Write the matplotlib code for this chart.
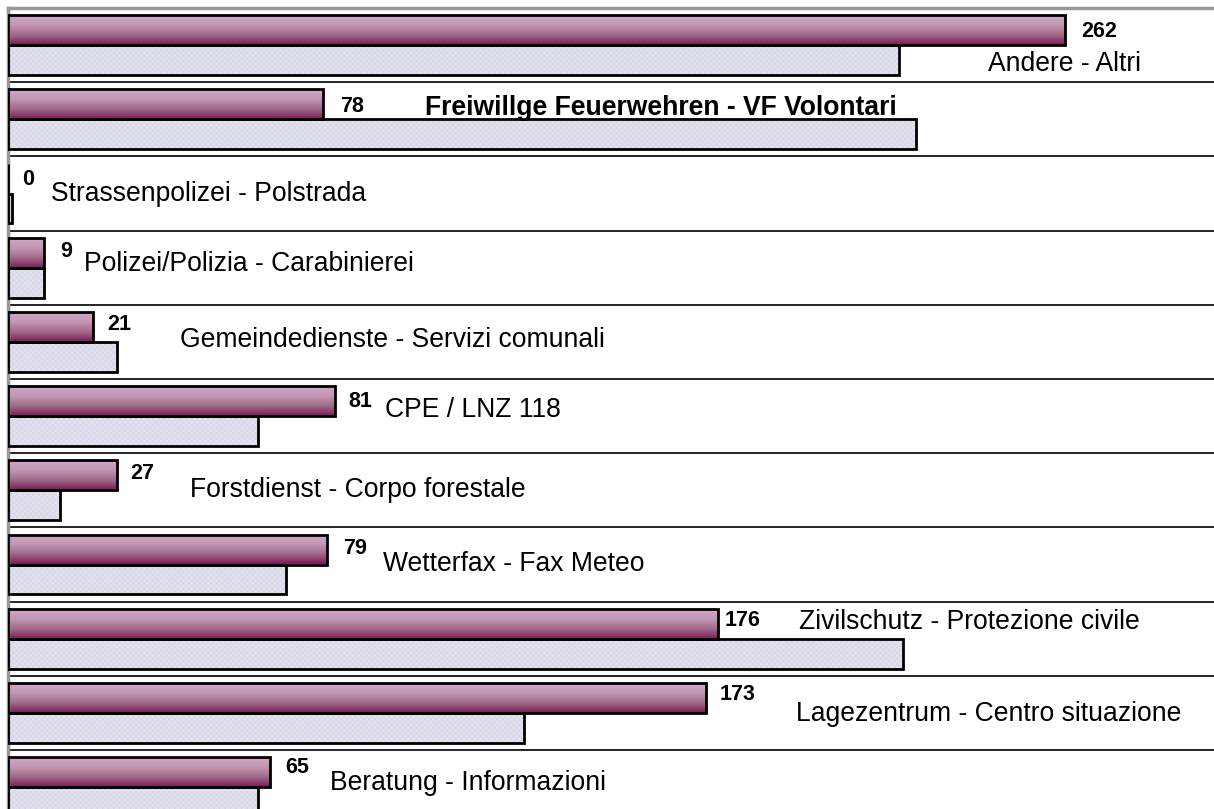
import numpy as np
import matplotlib
matplotlib.use("Agg")
import matplotlib.pyplot as plt
from matplotlib.colors import LinearSegmentedColormap

plt.rcParams['font.family'] = ['Liberation Sans', 'DejaVu Sans']
plt.rcParams['hatch.linewidth'] = 0.4

# categories top to bottom
labels = ["Andere - Altri",
          "Freiwillge Feuerwehren - VF Volontari",
          "Strassenpolizei - Polstrada",
          "Polizei/Polizia - Carabinierei",
          "Gemeindedienste - Servizi comunali",
          "CPE / LNZ 118",
          "Forstdienst - Corpo forestale",
          "Wetterfax - Fax Meteo",
          "Zivilschutz - Protezione civile",
          "Lagezentrum - Centro situazione",
          "Beratung - Informazioni"]
current = [262, 78, 0, 9, 21, 81, 27, 79, 176, 173, 65]
previous = [221, 225, 1, 9, 27, 62, 13, 69, 222, 128, 62]

# text placement (data units): value label and category label
num_x = [266.2, 82.3, 3.6, 12.9, 24.6, 84.3, 30.2, 83.0, 177.7, 176.5, 68.7]
num_dy = [-0.19, -0.17, -0.19, -0.22, -0.24, -0.2, -0.23, -0.22, -0.25, -0.25, -0.27]
lab_x = [243.0, 103.4, 10.6, 18.8, 42.6, 93.5, 45.0, 93.0, 196.0, 195.3, 79.8]
lab_dy = [0.25, -0.15, 0.01, -0.05, -0.03, -0.08, -0.01, -0.01, -0.23, 0.01, -0.06]
lab_bold = [False, True, False, False, False, False, False, False, False, False, False]

fig = plt.figure(figsize=(12.14, 8.09), dpi=100)
ax = fig.add_axes([8 / 1214, 1 - 824.2 / 809, 1206 / 1214, 816.2 / 809])

y = np.arange(len(labels))
h = 0.404

cmap = LinearSegmentedColormap.from_list("mauve", ["#d3a9c6", "#c296b3", "#a06986", "#7a1d56"])
grad = cmap(np.linspace(0, 1, 64))[:, None, :]

# top bars with vertical gradient
bars1 = ax.barh(y - h / 2, current, height=h, color="none", edgecolor="black", linewidth=2, zorder=3)
for b, v in zip(bars1, current):
    if v > 0:
        yc = b.get_y()
        im = ax.imshow(grad, extent=(0, v, yc + h, yc), aspect="auto", interpolation="bilinear", zorder=2)
        im.set_clip_path(b)

# bottom bars, light textured
ax.barh(y + h / 2, previous, height=h, color="#e2e2ef", edgecolor="#d2d2e2", hatch="xxxxxx", linewidth=0, zorder=2)
ax.barh(y + h / 2, previous, height=h, color="none", edgecolor="black", linewidth=2, zorder=3)

# row separators
for i in range(len(labels) - 1):
    ax.axhline(i + 0.5, color="black", linewidth=1.2, zorder=1)

for i in range(len(labels)):
    ax.text(num_x[i], i + num_dy[i], str(current[i]), fontsize=15.5, fontweight="bold", va="center", ha="left")
    ax.text(lab_x[i], i + lab_dy[i], labels[i], fontsize=19.1,
            fontweight="bold" if lab_bold[i] else "normal", va="center", ha="left")

ax.set_xlim(0, 299)
ax.set_ylim(len(labels) - 0.5, -0.5)
ax.set_xticks([])
ax.set_yticks([])
for s in ["right", "bottom"]:
    ax.spines[s].set_visible(False)
ax.spines["top"].set_color("#999999")
ax.spines["top"].set_linewidth(2.5)
ax.spines["left"].set_color("#999999")
ax.spines["left"].set_linewidth(2.5)

fig.savefig("out.png", dpi=100)
